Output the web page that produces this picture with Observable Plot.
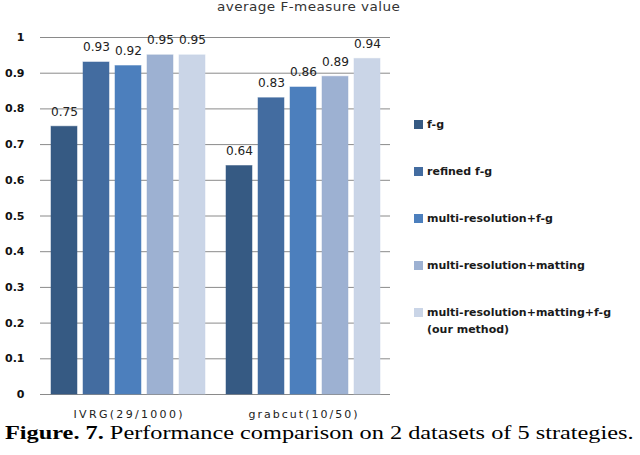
<!DOCTYPE html>
<html>
<head>
<meta charset="utf-8">
<script src="https://cdn.jsdelivr.net/npm/d3@7"></script>
<script src="https://cdn.jsdelivr.net/npm/@observablehq/plot@0.6"></script>
<style>
  body { margin: 0; background: #fff; }
  #wrap { position: relative; width: 640px; height: 455px; overflow: hidden; }
  #title { position: absolute; left: 217px; top: 0px; font: 12px "DejaVu Sans", sans-serif; color: #333; letter-spacing: 0.4px; white-space: nowrap; transform-origin: 0 0; }
  #legend { position: absolute; left: 414px; top: 0; }
  .li { position: absolute; white-space: nowrap; font: bold 11px "DejaVu Sans", sans-serif; color: #1a1a1a; line-height: 17px; }
  .sw { position: absolute; left: 0; width: 9px; height: 9px; }
  #caption { position: absolute; left: 5px; top: 423px; font: 19px/20px "Liberation Serif", "Times New Roman", serif; color: #000; white-space: nowrap; transform-origin: 0 0; }
  #chart { position: absolute; left: 0; top: 0; }
</style>
</head>
<body>
<div id="wrap">
  <div id="chart"></div>
  <div id="title"></div>
  <div id="legend"></div>
  <div id="caption"><b>Figure. 7.</b> Performance comparison on 2 datasets of 5 strategies.</div>
</div>
<script>
const datasets = ["IVRG(29/1000)", "grabcut(10/50)"];
const strategies = ["f-g", "refined f-g", "multi-resolution+f-g", "multi-resolution+matting", "multi-resolution+matting+f-g\n(our method)"];
const ivrgValues = [0.75, 0.93, 0.92, 0.95, 0.95];
const grabcutValues = [0.64, 0.83, 0.86, 0.89, 0.94];
const colors = ["#365a83", "#436ca0", "#4c7fbd", "#9db1d2", "#cad5e7"];
const yTicks = [0, 0.1, 0.2, 0.3, 0.4, 0.5, 0.6, 0.7, 0.8, 0.9, 1];
const titleText = "average F-measure value";

const data = [];
[ivrgValues, grabcutValues].forEach((vals, i) => {
  vals.forEach((v, j) => data.push({dataset: datasets[i], strategy: strategies[j], value: v}));
});

const plot = Plot.plot({
  width: 640,
  height: 424,
  marginTop: 37,
  marginBottom: 30,
  marginLeft: 40,
  marginRight: 250,
  style: {fontFamily: "'DejaVu Sans', sans-serif", background: "transparent"},
  fx: {domain: datasets, padding: 0, label: null, axis: "bottom", tickSize: 0, tickPadding: 16},
  x: {domain: strategies, paddingInner: 0.2, paddingOuter: 0.29, axis: null},
  y: {domain: [0, 1], axis: null, label: null},
  color: {domain: strategies, range: colors},
  marks: [
    Plot.gridY(yTicks, {stroke: "#8a8a8a", strokeOpacity: 1, strokeWidth: 1}),
    Plot.barY(data, {fx: "dataset", x: "strategy", y: "value", fill: "strategy", stroke: "strategy", strokeOpacity: 0.5}),
    Plot.text(data, {fx: "dataset", x: "strategy", y: "value", text: d => d3.format(".2f")(d.value), dy: -15, fontSize: 12, fill: "#222", fontFamily: "'DejaVu Sans', sans-serif"}),
    Plot.axisY(yTicks, {tickSize: 0, tickPadding: 16, tickFormat: d => String(d), fontWeight: "bold", fontSize: 11, fill: "#111", anchor: "left", label: null})
  ]
});
document.getElementById("chart").appendChild(plot);
plot.querySelectorAll('[aria-label="fx-axis tick label"] text').forEach(t => {
  t.setAttribute("font-size", "11");
  t.setAttribute("fill", "#222");
  t.setAttribute("textLength", "109");
  t.setAttribute("lengthAdjust", "spacing");
});
plot.querySelectorAll('[aria-label="text"] text').forEach(t => {
  t.setAttribute("textLength", "27");
  t.setAttribute("lengthAdjust", "spacingAndGlyphs");
});

const title = document.getElementById("title");
title.textContent = titleText;
title.style.transform = `scaleX(${183 / title.offsetWidth})`;

const cap = document.getElementById("caption");
cap.style.transform = `scaleX(${628 / cap.offsetWidth})`;

const legendY = [124, 171, 218, 265, 312];
const legend = document.getElementById("legend");
strategies.forEach((s, i) => {
  const item = document.createElement("div");
  item.className = "li";
  item.style.top = (legendY[i] - 8) + "px";
  const sw = document.createElement("div");
  sw.className = "sw";
  sw.style.background = colors[i];
  sw.style.top = "4px";
  item.appendChild(sw);
  const txt = document.createElement("div");
  txt.style.marginLeft = "13px";
  txt.innerHTML = s.split("\n").join("<br>");
  item.appendChild(txt);
  legend.appendChild(item);
});
</script>
</body>
</html>
